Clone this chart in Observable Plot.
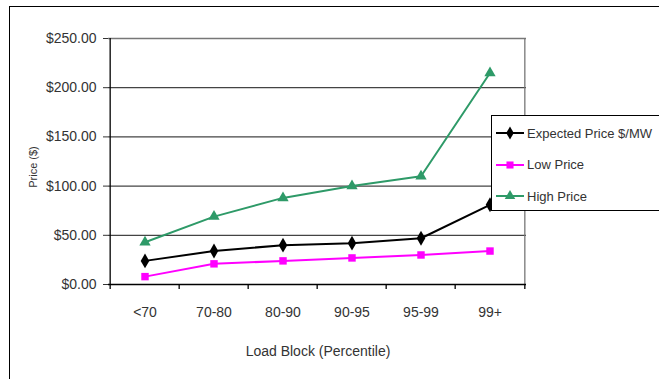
<!DOCTYPE html>
<html>
<head>
<meta charset="utf-8">
<script src="https://cdn.jsdelivr.net/npm/d3@7"></script>
<script src="https://cdn.jsdelivr.net/npm/@observablehq/plot@0.6"></script>
<style>
  html, body { margin: 0; padding: 0; background: #fff; }
  #wrap { position: relative; width: 659px; height: 379px; overflow: hidden;
    font-family: "Liberation Sans", Arial, sans-serif; color: #333; }
  #border { position: absolute; left: 9px; top: 6px; width: 700px; height: 420px;
    border: 1px solid #000; box-sizing: border-box; }
  #chart { position: absolute; left: 0; top: 0; }
  .txt { position: absolute; font-size: 13px; white-space: nowrap; line-height: 1; }
  #ytitle { left: 33px; top: 167px; font-size: 11px; transform: translate(-50%, -50%) rotate(-90deg); }
  #xtitle { left: 318px; top: 351px; font-size: 14px; transform: translate(-50%, -50%); }
  #legend { position: absolute; left: 491px; top: 115px; width: 200px; height: 96px;
    border: 1px solid #000; background: #fff; box-sizing: border-box; }
  .item { position: absolute; left: 4px; height: 16px; display: flex; align-items: center; }
  .item svg { display: block; margin-right: 3px; }
</style>
</head>
<body>
<div id="wrap">
  <div id="border"></div>
  <div id="chart"></div>
  <div id="ytitle" class="txt">Price ($)</div>
  <div id="xtitle" class="txt">Load Block (Percentile)</div>
  <div id="legend"></div>
</div>
<script>
// Load blocks and price series ($)
const categories = ["<70", "70-80", "80-90", "90-95", "95-99", "99+"];
const expectedPrice = [24, 34, 40, 42, 47, 81];
const lowPrice = [8, 21, 24, 27, 30, 34];
const highPrice = [43, 69, 88, 100, 110, 215];
const yTicks = [0, 50, 100, 150, 200, 250];

const seriesNames = ["Expected Price $/MW", "Low Price", "High Price"];
const seriesValues = [expectedPrice, lowPrice, highPrice];
const seriesColors = ["#000000", "#ff00ff", "#2e9a68"];
const seriesSymbols = ["diamond", "square", "triangle"];

const rows = seriesNames.flatMap((name, s) =>
  categories.map((c, i) => ({series: name, block: c, price: seriesValues[s][i]})));

const W = 659, H = 379, mL = 108, mR = 133, mT = 38, mB = 95;
const bw = (W - mL - mR) / categories.length;

const marks = [
  Plot.gridY(yTicks.slice(1, -1), {stroke: "#444", strokeOpacity: 1, strokeWidth: 1.3}),
  Plot.gridY([yTicks[yTicks.length - 1]], {stroke: "#777", strokeOpacity: 1, strokeWidth: 1.3}),
  // right edge of the plotting area
  Plot.ruleX([categories[categories.length - 1]], {dx: bw / 2, stroke: "#777", strokeWidth: 1.3}),
  // axis lines
  Plot.ruleY([0], {stroke: "#000", strokeWidth: 1.3}),
  Plot.ruleX([categories[0]], {dx: -bw / 2, stroke: "#000", strokeWidth: 1.3}),
  // category boundary ticks below the x axis
  Plot.ruleX(categories, {dx: -bw / 2, y1: 0, y2: 0, insetBottom: -5, stroke: "#000", strokeWidth: 1.3}),
  Plot.ruleX([categories[categories.length - 1]], {dx: bw / 2, y1: 0, y2: 0, insetBottom: -5, stroke: "#000", strokeWidth: 1.3}),
  Plot.axisY({ticks: yTicks, tickSize: 5, tickPadding: 7, tickFormat: d => "$" + d.toFixed(2),
    fontSize: 14, fill: "#333", label: null}),
  Plot.axisX({tickSize: 0, tickPadding: 23, fontSize: 14, fill: "#333", label: null})
];
seriesNames.forEach((name, s) => {
  const data = rows.filter(d => d.series === name);
  marks.push(Plot.line(data, {x: "block", y: "price", stroke: seriesColors[s], strokeWidth: 2}));
  marks.push(Plot.dot(data, {x: "block", y: "price", symbol: () => seriesSymbols[s],
    fill: seriesColors[s], stroke: "none", r: s === 0 ? 4.5 : 4.2}));
});

const chart = Plot.plot({
  width: W, height: H, marginLeft: mL, marginRight: mR, marginTop: mT, marginBottom: mB,
  x: {type: "band", domain: categories, padding: 0, label: null},
  y: {domain: [0, 250], label: null},
  symbol: {type: "identity"},
  style: {fontFamily: "'Liberation Sans', Arial, sans-serif",
    fontSize: "14px", background: "transparent", overflow: "visible"},
  marks
});
document.getElementById("chart").appendChild(chart);

// legend
const legend = document.getElementById("legend");
const symbolPaths = {
  diamond: d3.symbol(d3.symbolDiamond, 50)(),
  square: d3.symbol(d3.symbolSquare, 50)(),
  triangle: d3.symbol(d3.symbolTriangle, 48)()
};
seriesNames.forEach((name, s) => {
  const item = document.createElement("div");
  item.className = "item txt";
  item.style.top = (9 + s * 31.5) + "px";
  item.innerHTML = `<svg width="28" height="14"><line x1="0" x2="28" y1="7" y2="7" stroke="${seriesColors[s]}" stroke-width="2"/>` +
    `<path transform="translate(14,7)" d="${symbolPaths[seriesSymbols[s]]}" fill="${seriesColors[s]}"/></svg><span>${name}</span>`;
  legend.appendChild(item);
});
</script>
</body>
</html>
